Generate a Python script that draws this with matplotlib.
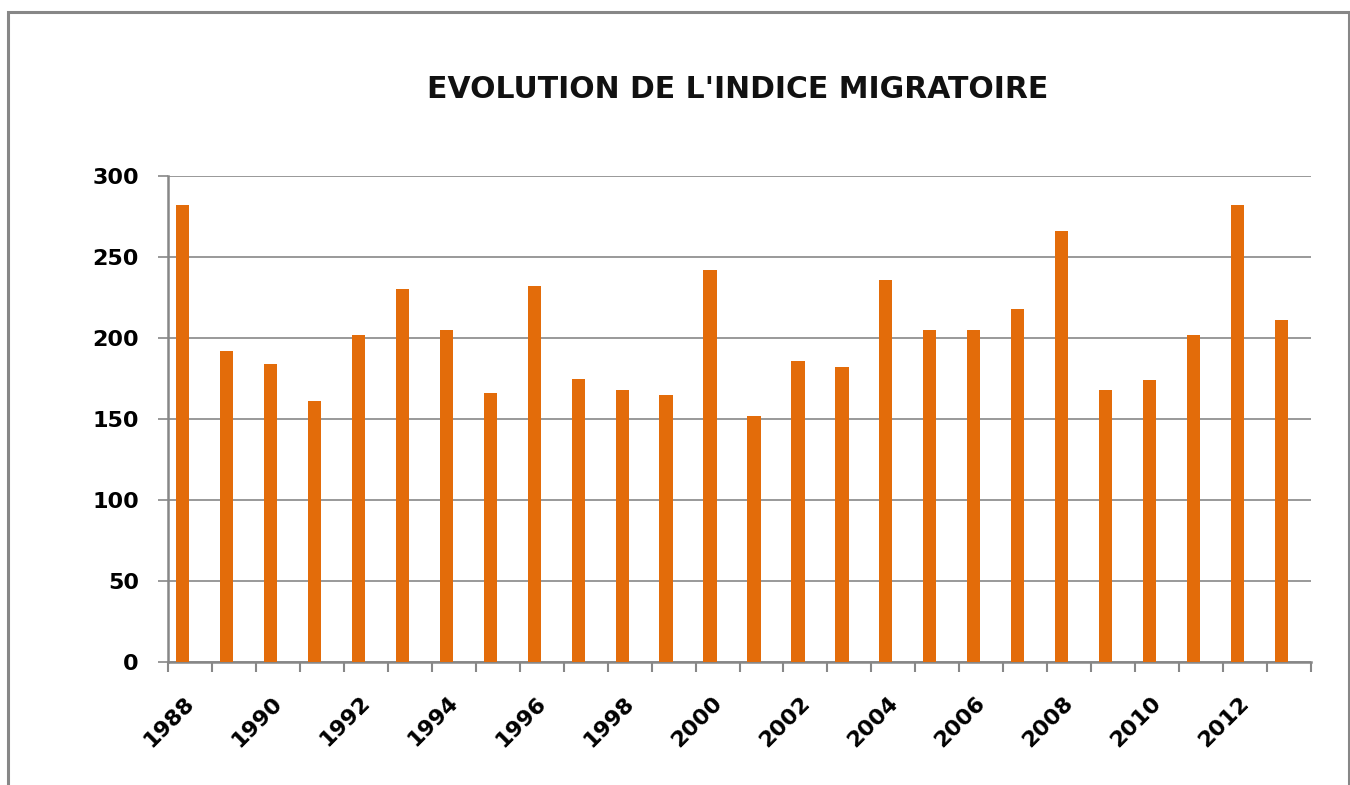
import matplotlib
matplotlib.use("Agg")
import matplotlib.pyplot as plt
from matplotlib.patches import Rectangle
from matplotlib.transforms import ScaledTranslation
import numpy as np

years = list(range(1988, 2014))
values = [282, 192, 184, 161, 202, 230, 205, 166, 232, 175, 168, 165, 242,
          152, 186, 182, 236, 205, 205, 218, 266, 168, 174, 202, 282, 211]
yticks = [0, 50, 100, 150, 200, 250, 300]
title = "EVOLUTION DE L'INDICE MIGRATOIRE"

plt.rcParams['font.family'] = ['DejaVu Sans']
gray = '#878787'
orange = '#E36C0A'

fig = plt.figure(figsize=(13.5, 7.85), dpi=100)
ax = fig.add_axes([168/1350, 1 - 662/785, (1311-168)/1350, (662-176)/785])

x = np.arange(len(years))
bar_shift = -0.17  # bars sit slightly left of the category centre
ax.bar(x + bar_shift, values, width=0.3, color=orange, zorder=3)

ax.set_xlim(-0.5, len(years) - 0.5)
ax.set_ylim(0, 300)
ax.set_yticks(yticks)
ax.set_yticklabels([str(v) for v in yticks], fontsize=16, fontweight='bold')
ax.yaxis.grid(True, color=gray, linewidth=1.2, zorder=0)

ax.set_xticks(x[::2])
ax.set_xticklabels([str(y) for y in years[::2]], rotation=45, ha='right',
                   rotation_mode='anchor', fontsize=16, fontweight='bold')
ax.set_xticks(np.arange(-0.5, len(years), 1.0), minor=True)
ax.tick_params(axis='x', which='major', length=0, pad=22)
ax.tick_params(axis='x', which='minor', length=7, width=1.5, color=gray, direction='out')
ax.tick_params(axis='y', length=7, width=1.2, color=gray, pad=14)

offset = ScaledTranslation(-6/100, 0, fig.dpi_scale_trans)
for lbl in ax.get_xticklabels():
    lbl.set_transform(lbl.get_transform() + offset)

for s in ['top', 'right']:
    ax.spines[s].set_visible(False)
for s in ['left', 'bottom']:
    ax.spines[s].set_color(gray)
    ax.spines[s].set_linewidth(1.8)

fig.text(738/1350, 1 - 89/785, title, ha='center', va='center',
         fontsize=21.5, fontweight='bold', color='#111111')

fig.patches.append(Rectangle((8/1350, -0.05), (1349-8)/1350, 1.05 - 12/785,
                             transform=fig.transFigure, fill=False,
                             edgecolor=gray, linewidth=2.2))

fig.savefig('out.png', dpi=100)
